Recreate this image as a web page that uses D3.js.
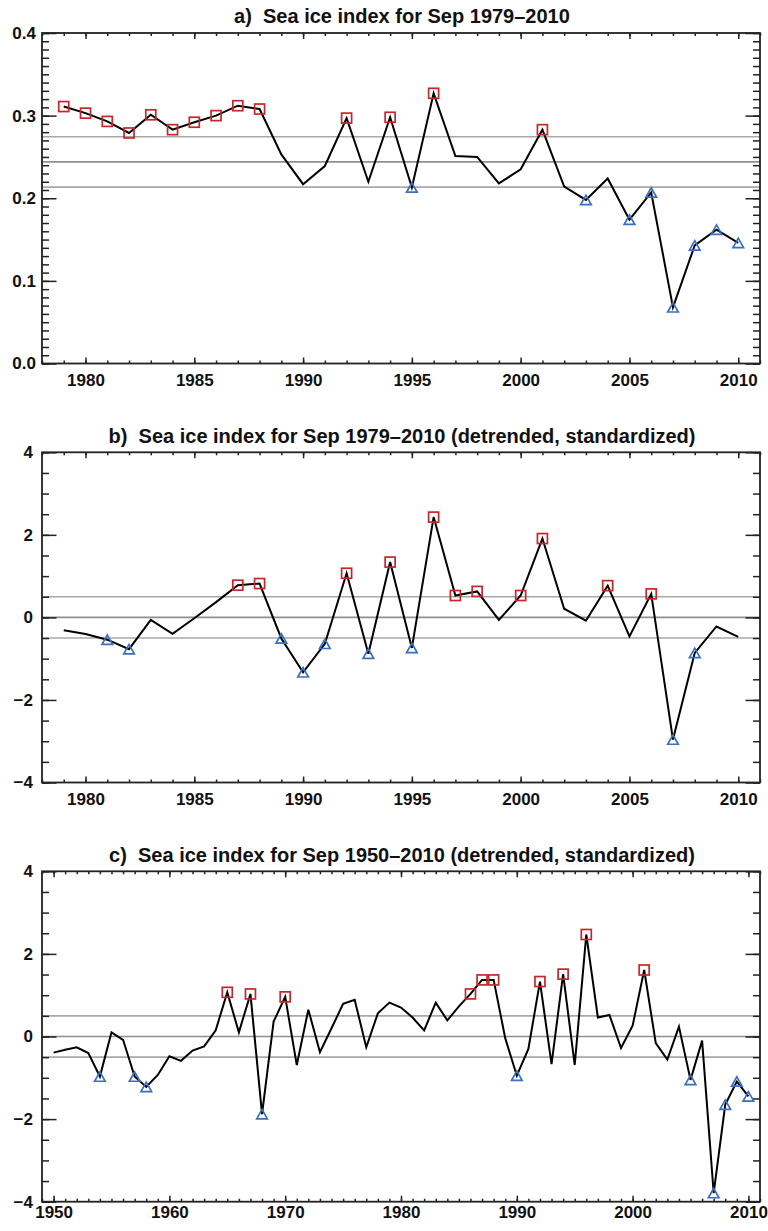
<!DOCTYPE html>
<meta charset="utf-8">
<script src="https://d3js.org/d3.v7.min.js"></script>
<style>
  body { margin: 0; background: #fff; }
  text { font-family: "Liberation Sans", Arial, sans-serif; font-weight: bold; fill: #111; }
  .title { font-size: 20px; white-space: pre; }
  .tick text { font-size: 17px; }
  .frame { fill: none; stroke: #222; stroke-width: 1.8px; }
  .axis line { stroke: #222; stroke-width: 1.5px; }
  .axis path { display: none; }
  .series { fill: none; stroke: #000; stroke-width: 2px; stroke-linejoin: miter; }
  .ref { stroke: #a8a8a8; stroke-width: 1.6px; }
  .ref.mid { stroke: #909090; }
  .hi { fill: none; stroke: #c8262a; stroke-width: 1.7px; }
  .lo { fill: none; stroke: #3a6fc2; stroke-width: 1.7px; }
</style>
<body>
<div id="chart"></div>
<script>
  // panel a: raw Sep sea ice index, 1979-2010
  var yearsA = d3.range(1979, 2011);
  var valuesA = [0.311, 0.303, 0.293, 0.279, 0.301, 0.283, 0.292, 0.300, 0.312, 0.308,
                 0.253, 0.217, 0.239, 0.297, 0.220, 0.298, 0.213, 0.327, 0.251, 0.250,
                 0.218, 0.235, 0.283, 0.214, 0.198, 0.224, 0.174, 0.207, 0.068, 0.143,
                 0.162, 0.146];
  var highA = [1979, 1980, 1981, 1982, 1983, 1984, 1985, 1986, 1987, 1988, 1992, 1994, 1996, 2001];
  var lowA = [1995, 2003, 2005, 2006, 2007, 2008, 2009, 2010];
  var refA = [0.2135, 0.2440, 0.2745];

  // panel b: detrended, standardized, 1979-2010
  var yearsB = d3.range(1979, 2011);
  var valuesB = [-0.31, -0.40, -0.54, -0.77, -0.06, -0.40, -0.02, 0.37, 0.78, 0.82,
                 -0.51, -1.33, -0.64, 1.07, -0.88, 1.34, -0.74, 2.43, 0.53, 0.63,
                 -0.06, 0.53, 1.91, 0.21, -0.08, 0.77, -0.46, 0.57, -2.96, -0.86,
                 -0.22, -0.47];
  var highB = [1987, 1988, 1992, 1994, 1996, 1997, 1998, 2000, 2001, 2004, 2006];
  var lowB = [1981, 1982, 1989, 1990, 1991, 1993, 1995, 2007, 2008];
  var refB = [-0.5, 0, 0.5];

  // panel c: detrended, standardized, 1950-2010
  var yearsC = d3.range(1950, 2011);
  var valuesC = [-0.39, -0.32, -0.26, -0.40, -0.97, 0.10, -0.08, -0.97, -1.22, -0.93,
                 -0.48, -0.59, -0.34, -0.24, 0.15, 1.07, 0.10, 1.03, -1.88, 0.36,
                 0.96, -0.69, 0.65, -0.38, 0.20, 0.79, 0.89, -0.26, 0.56, 0.82,
                 0.70, 0.46, 0.15, 0.82, 0.39, 0.73, 1.03, 1.37, 1.37, -0.04,
                 -0.95, -0.30, 1.33, -0.67, 1.51, -0.69, 2.47, 0.46, 0.52, -0.28,
                 0.26, 1.61, -0.16, -0.56, 0.24, -1.05, -0.10, -3.79, -1.65, -1.09,
                 -1.45];
  var highC = [1965, 1967, 1970, 1986, 1987, 1988, 1992, 1994, 1996, 2001];
  var lowC = [1954, 1957, 1958, 1968, 1990, 2005, 2007, 2008, 2009, 2010];
  var refC = [-0.5, 0, 0.5];

  var width = 768, height = 1231;
  var left = 42, right = 760;

  var svg = d3.select("#chart").append("svg")
      .attr("width", width)
      .attr("height", height);

  function panel(p) {
    var g = svg.append("g");
    var x = d3.scaleLinear().domain(p.xDomain).range([left, right]);
    var y = d3.scaleLinear().domain(p.yDomain).range([p.bottom, p.top]);

    var xMajor = d3.range(p.xMajorStart, 2011, p.xMajorStep);
    var xMinor = d3.range(Math.ceil(p.xDomain[0]), p.xDomain[1] + 1, 1);
    var yMajor = d3.range(p.yDomain[0], p.yDomain[1] + p.yMajorStep / 2, p.yMajorStep);
    var yMinor = d3.range(p.yDomain[0], p.yDomain[1] + p.yMinorStep / 2, p.yMinorStep);

    // reference lines
    g.selectAll(".ref").data(p.refs).enter().append("line")
        .attr("class", function(d, i) { return i == 1 ? "ref mid" : "ref"; })
        .attr("x1", left).attr("x2", right)
        .attr("y1", function(d) { return y(d); })
        .attr("y2", function(d) { return y(d); });

    // minor ticks
    g.append("g").attr("class", "axis").attr("transform", "translate(0," + p.bottom + ")")
        .call(d3.axisBottom(x).tickValues(xMinor).tickSize(-3).tickSizeOuter(0).tickFormat(""));
    g.append("g").attr("class", "axis").attr("transform", "translate(0," + p.top + ")")
        .call(d3.axisTop(x).tickValues(xMinor).tickSize(-3).tickSizeOuter(0).tickFormat(""));
    g.append("g").attr("class", "axis").attr("transform", "translate(" + left + ",0)")
        .call(d3.axisLeft(y).tickValues(yMinor).tickSize(-7).tickSizeOuter(0).tickFormat(""));
    g.append("g").attr("class", "axis").attr("transform", "translate(" + right + ",0)")
        .call(d3.axisRight(y).tickValues(yMinor).tickSize(-7).tickSizeOuter(0).tickFormat(""));

    // major ticks with labels
    g.append("g").attr("class", "axis").attr("transform", "translate(0," + p.bottom + ")")
        .call(d3.axisBottom(x).tickValues(xMajor).tickSize(-6).tickSizeOuter(0)
          .tickPadding(p.xPad).tickFormat(d3.format("d")));
    g.append("g").attr("class", "axis").attr("transform", "translate(0," + p.top + ")")
        .call(d3.axisTop(x).tickValues(xMajor).tickSize(-6).tickSizeOuter(0).tickFormat(""));
    g.append("g").attr("class", "axis").attr("transform", "translate(" + left + ",0)")
        .call(d3.axisLeft(y).tickValues(yMajor).tickSize(-14.5).tickSizeOuter(0)
          .tickPadding(p.yPad).tickFormat(d3.format(p.yFormat)));
    g.append("g").attr("class", "axis").attr("transform", "translate(" + right + ",0)")
        .call(d3.axisRight(y).tickValues(yMajor).tickSize(-14.5).tickSizeOuter(0).tickFormat(""));

    g.append("rect").attr("class", "frame")
        .attr("x", left).attr("y", p.top)
        .attr("width", right - left).attr("height", p.bottom - p.top);

    var pts = p.years.map(function(yr, i) { return {year: yr, value: p.values[i]}; });

    var line = d3.line()
        .x(function(d) { return x(d.year); })
        .y(function(d) { return y(d.value); });

    g.append("path").datum(pts).attr("class", "series").attr("d", line);

    g.selectAll(".hi").data(pts.filter(function(d) { return p.high.indexOf(d.year) >= 0; }))
      .enter().append("rect")
        .attr("class", "hi")
        .attr("x", function(d) { return x(d.year) - 5; })
        .attr("y", function(d) { return y(d.value) - 5; })
        .attr("width", 10).attr("height", 10);

    g.selectAll(".lo").data(pts.filter(function(d) { return p.low.indexOf(d.year) >= 0; }))
      .enter().append("path")
        .attr("class", "lo")
        .attr("transform", function(d) { return "translate(" + x(d.year) + "," + y(d.value) + ")"; })
        .attr("d", "M0,-4.7L5.3,4.7L-5.3,4.7Z");

    g.append("text").attr("class", "title")
        .attr("x", (left + right) / 2 + 1).attr("y", p.titleY)
        .attr("text-anchor", "middle")
        .text(p.title);
  }

  panel({
    title: "a)  Sea ice index for Sep 1979\u20132010",
    titleY: 23, top: 33, bottom: 363.5,
    years: yearsA, values: valuesA, high: highA, low: lowA, refs: refA,
    xDomain: [1978, 2011], xMajorStart: 1980, xMajorStep: 5,
    yDomain: [0, 0.4], yMajorStep: 0.1, yMinorStep: 0.01, yFormat: ".1f",
    xPad: 10, yPad: 6
  });

  panel({
    title: "b)  Sea ice index for Sep 1979\u20132010 (detrended, standardized)",
    titleY: 443, top: 452.3, bottom: 782.5,
    years: yearsB, values: valuesB, high: highB, low: lowB, refs: refB,
    xDomain: [1978, 2011], xMajorStart: 1980, xMajorStep: 5,
    yDomain: [-4, 4], yMajorStep: 2, yMinorStep: 0.5, yFormat: "d",
    xPad: 10, yPad: 9
  });

  panel({
    title: "c)  Sea ice index for Sep 1950\u20132010 (detrended, standardized)",
    titleY: 862, top: 871.3, bottom: 1201.7,
    years: yearsC, values: valuesC, high: highC, low: lowC, refs: refC,
    xDomain: [1949, 2011], xMajorStart: 1950, xMajorStep: 10,
    yDomain: [-4, 4], yMajorStep: 2, yMinorStep: 0.5, yFormat: "d",
    xPad: 4, yPad: 9
  });
</script>
